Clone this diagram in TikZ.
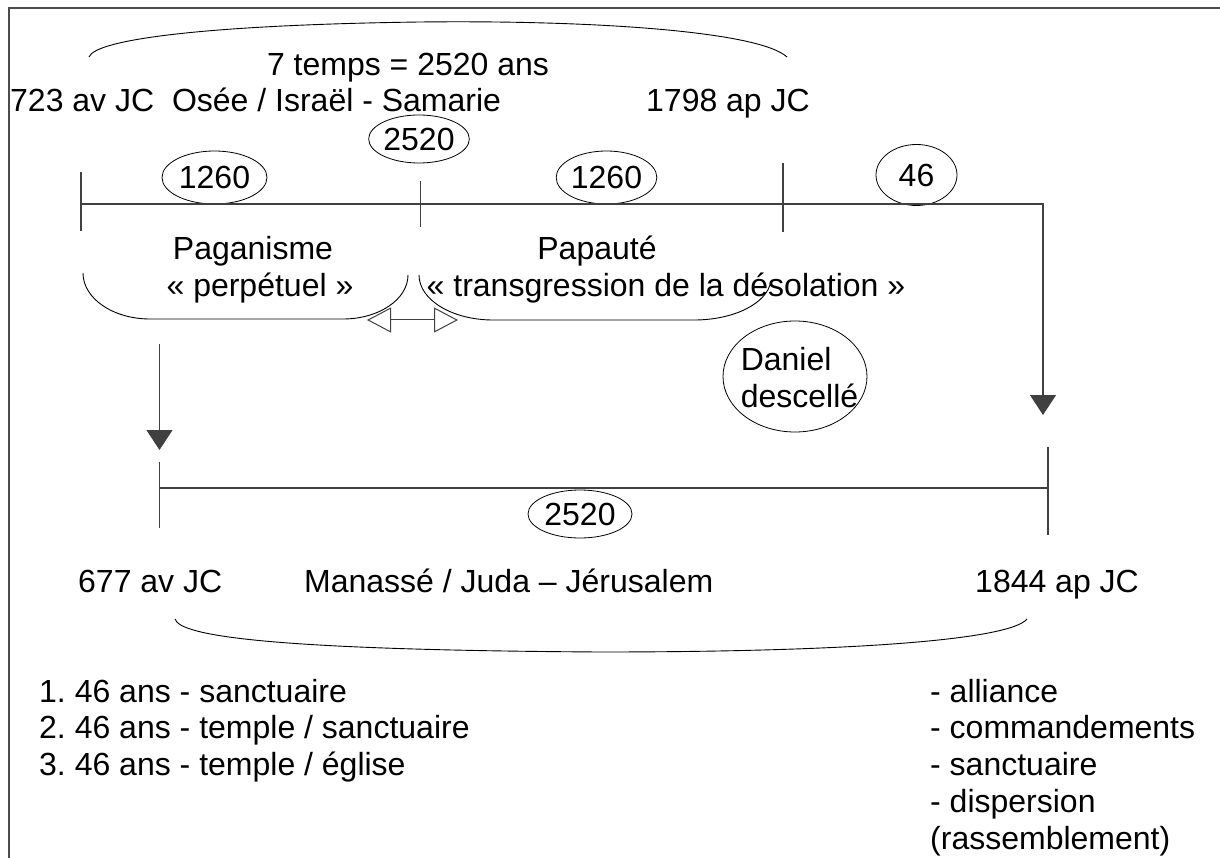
\documentclass[tikz,border=0pt]{standalone}
\usepackage{fontspec}
\setmainfont{Liberation Sans}
\usetikzlibrary{arrows.meta,shapes.geometric}
\frenchspacing
\begin{document}
\begin{tikzpicture}[x=1pt,y=-1pt,
  bigfont/.style={font=\fontsize{32}{36.8}\selectfont\frenchspacing},
  txt/.style={bigfont, inner sep=0pt, anchor=base west},
  ctxt/.style={bigfont, inner sep=0pt, anchor=base},
  oval/.style={bigfont, draw=black, ellipse, inner sep=0pt, line width=0.8pt},
  tline/.style={draw=black!75, line width=1.2pt},
  curve/.style={draw=black, line width=0.9pt},
  frameline/.style={draw=black!70, line width=1.5pt},
  downtip/.style={-{Triangle[length=20pt,width=26pt]}},
  opentips/.style={{Triangle[open,length=24pt,width=25pt]}-{Triangle[open,length=24pt,width=25pt]}}
]
\useasboundingbox (0,0) rectangle (1220,858);
% frame
\draw[frameline] (9,858) -- (9,8) -- (1220,8);

% top brace
\coordinate (tb1) at (89,57);
\coordinate (tbm) at (420,22);
\coordinate (tb2) at (787,57);
\draw[curve] (tb1) .. controls (95,40) and (200,25) .. (tbm) .. controls (600,20) and (760,32) .. (tb2);

% top texts
\node[ctxt] (septt) at (408,76) {7 temps = 2520 ans};
\node[txt] (d723) at (10,112) {723 av JC\ \ Osée / Israël - Samarie};
\node[ctxt] (d1798) at (728,112) {1798 ap JC};

% ellipses top
\node[oval, minimum width=98pt, minimum height=48pt] (e2520a) at (419,139) {2520};
\node[oval, minimum width=105pt, minimum height=53pt] (e1260a) at (214.5,177.5) {1260};
\node[oval, minimum width=91pt, minimum height=53pt] (e1260b) at (606.5,177.5) {1260};
\node[oval, minimum width=81pt, minimum height=61pt] (e46) at (916.5,175) {46};

% top timeline
\coordinate (t0) at (81,204);
\coordinate (t3) at (1043,204);
\coordinate (aR) at (1043,415);
\draw[tline, downtip] (t0) -- (t3) -- (aR);
\coordinate (k0a) at (81,172);  \coordinate (k0b) at (81,231);
\coordinate (k1a) at (420.5,181); \coordinate (k1b) at (420.5,227);
\coordinate (k2a) at (783,163); \coordinate (k2b) at (783,232);
\draw[tline] (k0a) -- (k0b);
\draw[tline] (k1a) -- (k1b);
\draw[tline] (k2a) -- (k2b);

% Paganisme shape
\coordinate (p1) at (83,273);
\coordinate (p2) at (343,319);
\draw[curve] (p1) arc[start angle=180, end angle=90, x radius=67, y radius=46] -- (p2)
  arc[start angle=90, end angle=0, x radius=65, y radius=44];
\node[ctxt] (pag) at (253,260) {Paganisme};
\node[ctxt] (perp) at (260,296.6) {« perpétuel »};

% Papauté shape
\coordinate (q1) at (419,275);
\coordinate (q2) at (694,320);
\draw[curve] (q1) arc[start angle=180, end angle=90, x radius=74, y radius=45] -- (q2)
  arc[start angle=90, end angle=5, x radius=77, y radius=42];
\node[ctxt] (pap) at (597,260) {Papauté};
\node[ctxt] (transg) at (666,296.6) {« transgression de la désolation »};

% double arrow
\coordinate (dl) at (367,320);
\coordinate (dr) at (458,320);
\draw[tline, line width=1pt, opentips] (dl) -- (dr);

% Daniel
\node[draw=black, ellipse, line width=0.8pt, minimum width=144pt, minimum height=111pt, inner sep=0pt] (dan) at (795,376.5) {};
\node[bigfont, inner sep=0pt, align=left] (dantxt) at (799.5,377.8) {Daniel\\descellé};

% left down arrow
\coordinate (la) at (159.5,344);
\coordinate (lb) at (159.5,450);
\draw[tline, downtip] (la) -- (lb);

% bottom timeline
\coordinate (b0) at (159.5,488);
\coordinate (b1) at (1048,488);
\coordinate (b0a) at (159.5,462); \coordinate (b0b) at (159.5,528);
\coordinate (b1a) at (1048,447);  \coordinate (b1b) at (1048,535);
\draw[tline] (b0) -- (b1);
\draw[tline] (b0a) -- (b0b);
\draw[tline] (b1a) -- (b1b);
\node[oval, minimum width=104pt, minimum height=48pt] (e2520b) at (580,514) {2520};

% bottom texts
\node[txt] (d677) at (78,592) {677 av JC};
\node[txt] (manasse) at (304,592) {Manassé / Juda – Jérusalem};
\node[txt] (d1844) at (975,592) {1844 ap JC};

% bottom brace
\coordinate (bb1) at (175,619);
\coordinate (bbm) at (600,652);
\coordinate (bb2) at (1027,619);
\draw[curve] (bb1) .. controls (180,636) and (270,650) .. (bbm) .. controls (850,652) and (1010,640) .. (bb2);

% lists
\node[txt] (l1) at (39,702) {1. 46 ans - sanctuaire};
\node[txt] (l2) at (39,738.8) {2. 46 ans - temple / sanctuaire};
\node[txt] (l3) at (39,775.6) {3. 46 ans - temple / église};
\node[txt] (r1) at (930,702) {- alliance};
\node[txt] (r2) at (930,738.8) {- commandements};
\node[txt] (r3) at (930,775.6) {- sanctuaire};
\node[txt] (r4) at (930,812.4) {- dispersion};
\node[txt] (r5) at (930,849.2) {(rassemblement)};
\end{tikzpicture}
\end{document}
